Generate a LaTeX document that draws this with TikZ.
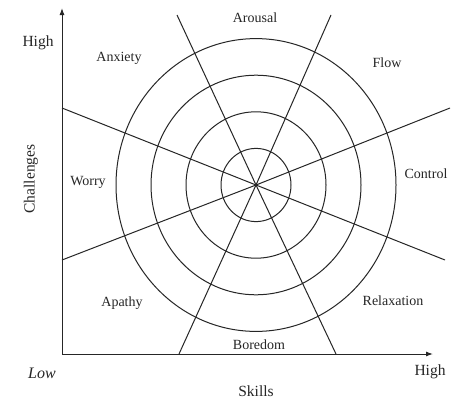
\documentclass[tikz,border=0pt]{standalone}
\usepackage{fontspec}
\setmainfont{Liberation Serif}
\usetikzlibrary{arrows.meta}
\begin{document}
\begin{tikzpicture}[x=1pt,y=-1pt,
  ln/.style={line width=1pt,draw=black!85},
  ring/.style={line width=1pt,draw=black!85},
  axisline/.style={line width=1pt,draw=black!85,-{Latex[length=7pt,width=5pt]}},
  region/.style={font=\fontsize{14}{14}\selectfont,text=black!85,inner sep=0pt},
  axlab/.style={font=\fontsize{15.5}{15.5}\selectfont,text=black!85,inner sep=0pt}]
\useasboundingbox (0,0) rectangle (457,402);
\fill[white] (0,0) rectangle (457,402);
% centre and line end points
\coordinate (O) at (256,185);
\coordinate (origin) at (62,354);
\coordinate (ytip) at (62,8);
\coordinate (xtip) at (433,354);
\coordinate (a1) at (62,108);  \coordinate (b1) at (445,260);
\coordinate (a2) at (62,260);  \coordinate (b2) at (450,108);
\coordinate (a3) at (177,15);  \coordinate (b3) at (336,354);
\coordinate (a4) at (331,15);  \coordinate (b4) at (179,354);
% rings
\foreach \k in {1,2,3,4}
  \draw[ring] (O) ellipse [x radius={35*\k}, y radius={36.6*\k}];
% radial lines
\draw[ln] (a1) -- (O) -- (b1);
\draw[ln] (a2) -- (O) -- (b2);
\draw[ln] (a3) -- (O) -- (b3);
\draw[ln] (a4) -- (O) -- (b4);
% axes
\draw[axisline] (origin) -- (ytip);
\draw[axisline] (origin) -- (xtip);
% region labels
\node[region] (arousal) at (255,18) {Arousal};
\node[region] (anxiety) at (119,58) {Anxiety};
\node[region] (flow) at (387,63) {Flow};
\node[region] (worry) at (88,182) {Worry};
\node[region] (control) at (426,174) {Control};
\node[region] (apathy) at (122,303) {Apathy};
\node[region] (relax) at (393,301) {Relaxation};
\node[region] (boredom) at (259,345) {Boredom};
% axis labels
\node[axlab] (highy) at (38,43) {High};
\node[axlab,rotate=90] (chal) at (31,179) {Challenges};
\node[axlab,font=\fontsize{16}{16}\selectfont\itshape] (low) at (42,373) {Low};
\node[axlab] (highx) at (430,372) {High};
\node[axlab] (skills) at (256,391) {Skills};
\end{tikzpicture}
\end{document}
